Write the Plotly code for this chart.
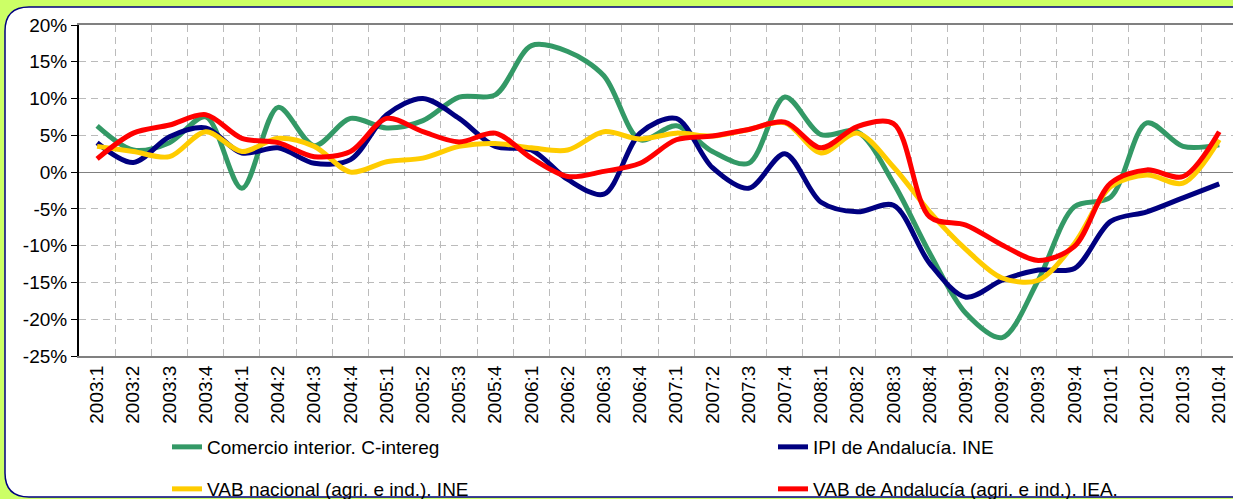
import plotly.graph_objects as go

W, H = 1233, 499
ML, MR, MT, MB = 79, 0, 25, 143

quarters = [f"{y}:{q}" for y in range(2003, 2011) for q in range(1, 5)]

comercio = [6.3, 3.0, 4.0, 7.5, -2.2, 8.8, 3.6, 7.3, 6.0, 7.0, 10.2, 10.5, 17.2, 16.4, 13.1, 4.4,
            6.3, 2.8, 1.2, 10.2, 5.1, 5.5, -1.5, -11.0, -19.2, -22.5, -14.7, -4.7, -3.4, 6.7, 3.5, 3.7]
ipi = [4.0, 1.3, 4.8, 6.0, 2.6, 3.3, 1.2, 1.7, 7.8, 10.0, 7.3, 3.5, 3.0, -1.0, -3.0, 5.3,
       7.3, 0.6, -2.2, 2.5, -4.1, -5.4, -4.5, -12.4, -17.0, -14.7, -13.3, -13.1, -6.7, -5.4, -3.5, -1.6]
vab_nac = [3.5, 2.8, 2.1, 5.5, 2.8, 4.6, 3.5, 0.0, 1.4, 1.9, 3.5, 3.9, 3.3, 3.0, 5.5, 4.5,
           5.3, 4.9, 5.8, 6.7, 2.6, 5.3, 0.7, -5.4, -10.5, -14.4, -14.7, -9.7, -2.0, -0.4, -1.5, 4.4]
vab_and = [1.8, 5.3, 6.4, 7.8, 4.6, 4.0, 2.1, 2.8, 7.3, 5.5, 4.1, 5.3, 1.9, -0.6, 0.1, 1.2,
           4.4, 4.9, 5.8, 6.8, 3.3, 6.2, 6.6, -6.1, -7.2, -9.9, -12.0, -10.1, -1.5, 0.3, -0.6, 5.5]

names = ["Comercio interior. C-intereg", "IPI de Andalucía. INE",
         "VAB nacional (agri. e ind.). INE", "VAB de Andalucía (agri. e ind.). IEA."]
colors = ["#339966", "#000080", "#FFCC00", "#FF0000"]
series = [comercio, ipi, vab_nac, vab_and]
legend_ids = ["legend", "legend2", "legend3", "legend4"]

y_ticks = list(range(-25, 21, 5))
y_ticktext = [f"{v}%" for v in y_ticks]

fig = go.Figure()
for name, col, vals, lg in zip(names, colors, series, legend_ids):
    fig.add_trace(go.Scatter(x=quarters, y=vals, name=name, mode="lines", showlegend=True,
                             line=dict(color=col, width=5, shape="spline", smoothing=0.9),
                             legend=lg))

pw = W - ML - MR
ph = H - MT - MB

def px(x):
    return (x - ML) / pw

def py(y):
    return (H - MB - y) / ph

# white panel: rounded on the left, open (straight) past the right edge
x0, y0, x1, y1, r = 5, 7, 1400, 497, 24
path = (f"M {px(x0)},{py(y0 + r)} Q {px(x0)},{py(y0)} {px(x0 + r)},{py(y0)} "
        f"L {px(x1)},{py(y0)} L {px(x1)},{py(y1)} "
        f"L {px(x0 + r)},{py(y1)} Q {px(x0)},{py(y1)} {px(x0)},{py(y1 - r)} Z")
fig.add_shape(type="path", path=path, xref="paper", yref="paper", layer="below",
              fillcolor="white", line=dict(color="#000080", width=1.5))

font = "Arial, Liberation Sans, sans-serif"

legend_pos = [(167, 447), (773, 447), (167, 489), (773, 489)]
legend_layout = {}
for lg, (lx, ly) in zip(legend_ids, legend_pos):
    legend_layout[lg] = dict(orientation="h", x=px(lx), y=py(ly), xanchor="left", yanchor="middle",
                             visible=True, bgcolor="rgba(0,0,0,0)", font=dict(size=19, family=font))

fig.update_layout(
    width=W, height=H, showlegend=True,
    margin=dict(l=ML, r=MR, t=MT, b=MB, autoexpand=False),
    paper_bgcolor="#CCFF66", plot_bgcolor="white",
    font=dict(family=font, size=19, color="black"),
    xaxis=dict(type="category", range=[-0.5, 31.38], tickson="boundaries",
               showgrid=True, gridcolor="#BBBBBB", gridwidth=1, griddash="7px,5px",
               showline=True, linecolor="#808080", linewidth=2, mirror=True,
               ticks="", tickangle=-90, tickfont=dict(size=19, family=font),
               zeroline=False, automargin=False),
    yaxis=dict(range=[-25, 20], tickvals=y_ticks, ticktext=y_ticktext,
               showgrid=True, gridcolor="#BBBBBB", gridwidth=1, griddash="7px,5px",
               showline=True, linecolor="black", linewidth=2,
               ticks="outside", ticklen=6, tickcolor="black", tickwidth=1,
               zeroline=True, zerolinecolor="#808080", zerolinewidth=1,
               tickfont=dict(size=19, family=font), automargin=False),
    **legend_layout,
)

fig.write_html("out.html", config={"displayModeBar": False},
               post_script="document.body.style.margin='0';document.body.style.padding='0';"
                           "document.body.style.background='#CCFF66';")
